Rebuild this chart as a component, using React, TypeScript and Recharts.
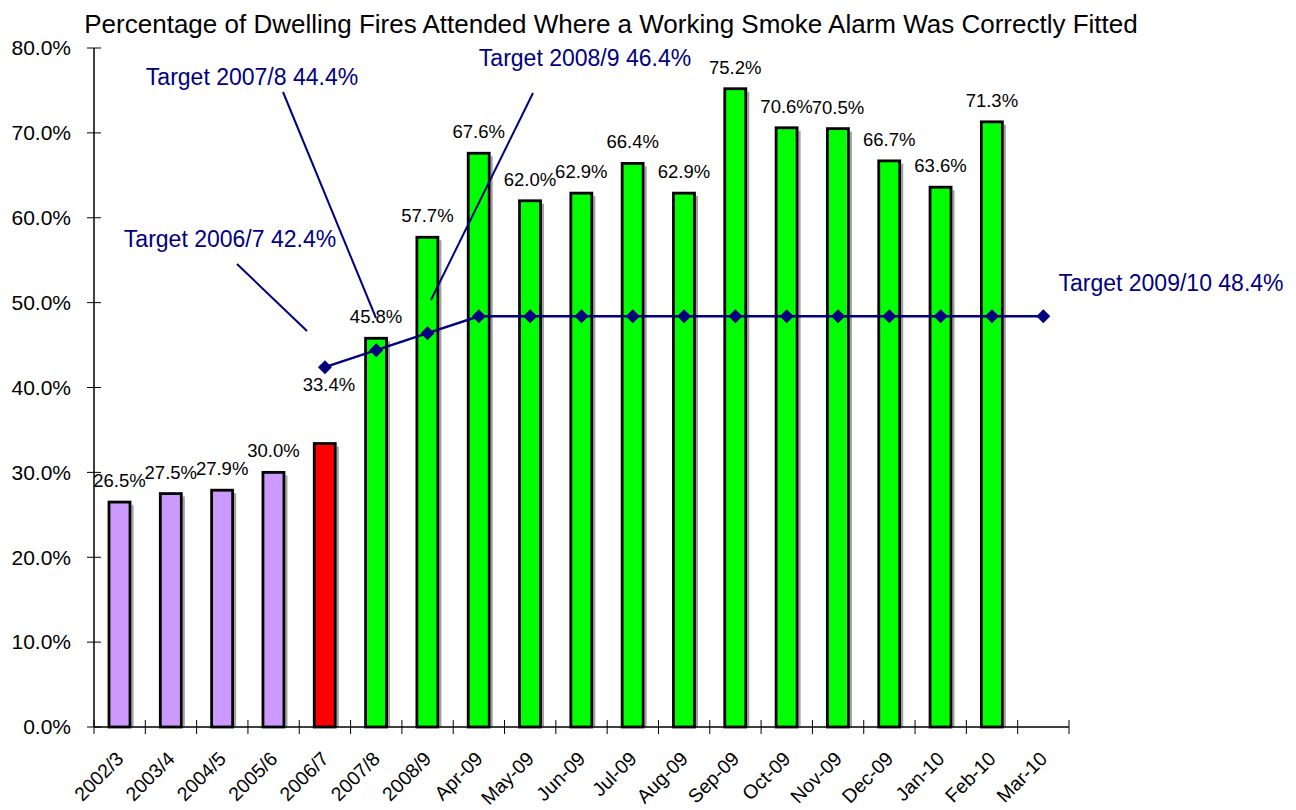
import React from 'react';
import {
  ComposedChart,
  Bar,
  Line,
  XAxis,
  YAxis,
  Cell,
  LabelList,
} from 'recharts';

const categories = [
  '2002/3', '2003/4', '2004/5', '2005/6', '2006/7', '2007/8', '2008/9',
  'Apr-09', 'May-09', 'Jun-09', 'Jul-09', 'Aug-09', 'Sep-09', 'Oct-09',
  'Nov-09', 'Dec-09', 'Jan-10', 'Feb-10', 'Mar-10',
];

const fittedPct = [
  26.5, 27.5, 27.9, 30.0, 33.4, 45.8, 57.7, 67.6, 62.0, 62.9, 66.4, 62.9,
  75.2, 70.6, 70.5, 66.7, 63.6, 71.3, null,
];

const targetPct = [
  null, null, null, null, 42.4, 44.4, 46.4, 48.4, 48.4, 48.4, 48.4, 48.4,
  48.4, 48.4, 48.4, 48.4, 48.4, 48.4, 48.4,
];

const barColors = [
  '#CC99FF', '#CC99FF', '#CC99FF', '#CC99FF', '#FF0000', '#00FF00', '#00FF00',
  '#00FF00', '#00FF00', '#00FF00', '#00FF00', '#00FF00', '#00FF00', '#00FF00',
  '#00FF00', '#00FF00', '#00FF00', '#00FF00', '#00FF00',
];

const yTicks = [0, 10, 20, 30, 40, 50, 60, 70, 80];

const targetNotes = [
  { text: 'Target 2007/8 44.4%', x: 252, y: 85, line: [283, 92, 376, 318] },
  { text: 'Target 2008/9 46.4%', x: 585, y: 66, line: [533, 93, 431, 300] },
  { text: 'Target 2006/7 42.4%', x: 230, y: 247, line: [237, 264, 307, 331] },
  { text: 'Target 2009/10 48.4%', x: 1171, y: 291, line: null },
];

const TITLE = 'Percentage of Dwelling Fires Attended Where a Working Smoke Alarm Was Correctly Fitted';

const W = 1296;
const H = 810;
const PLOT_LEFT = 94;
const PLOT_RIGHT = 1069;
const PLOT_TOP = 48;
const PLOT_BOTTOM = 727;
const BAND = (PLOT_RIGHT - PLOT_LEFT) / categories.length;
const FONT = '"Liberation Sans", Arial, sans-serif';
const NAVY = '#000080';

const data = categories.map((name, i) => ({
  name,
  fitted: fittedPct[i],
  target: targetPct[i],
}));

const pct = (v: number) => `${v.toFixed(1)}%`;

function YTick(props: any) {
  const { x, y, payload } = props;
  return (
    <g>
      <line x1={x - 7} x2={x + 7} y1={y} y2={y} stroke="#000" />
      <text x={x - 23} y={y} dy="0.35em" textAnchor="end" fontSize={21} fontFamily={FONT} fill="#000">
        {pct(payload.value)}
      </text>
    </g>
  );
}

function XTick(props: any) {
  const { x, y, payload, index } = props;
  const left = x - BAND / 2;
  const ax = x + 5;
  const ay = y + 33;
  return (
    <g>
      <line x1={left} x2={left} y1={y - 7} y2={y + 7} stroke="#000" />
      {index === categories.length - 1 && (
        <line x1={x + BAND / 2} x2={x + BAND / 2} y1={y - 7} y2={y + 7} stroke="#000" />
      )}
      <text
        x={ax}
        y={ay}
        transform={`rotate(-45, ${ax}, ${ay})`}
        textAnchor="end"
        fontSize={19.5}
        fontFamily={FONT}
        fill="#000"
      >
        {payload.value}
      </text>
    </g>
  );
}

function ShadowBar(props: any) {
  const { x, y, width, height, fill } = props;
  if (height == null || height <= 0) return null;
  return (
    <g>
      <rect x={x + width + 1.5} y={y + 3} width={2} height={height - 3} fill="#A0A0A0" />
      <rect x={x} y={y} width={width} height={height} fill={fill} stroke="#000" strokeWidth={2.8} />
    </g>
  );
}

function Diamond(props: any) {
  const { cx, cy, value } = props;
  if (value == null || cy == null) return null;
  const r = 7;
  return (
    <polygon
      points={`${cx},${cy - r} ${cx + r},${cy} ${cx},${cy + r} ${cx - r},${cy}`}
      fill={NAVY}
    />
  );
}

function BarLabel(props: any) {
  const { x, y, width, value, index } = props;
  if (value == null || index === 4) return null;
  return (
    <text x={x + width / 2} y={y - 15} textAnchor="middle" fontSize={18.5} fontFamily={FONT} fill="#000">
      {pct(value)}
    </text>
  );
}

function TargetStartLabel(props: any) {
  const { x, y, index } = props;
  if (index !== 4 || fittedPct[4] == null) return null;
  return (
    <text x={x + 4} y={y + 24} textAnchor="middle" fontSize={18.5} fontFamily={FONT} fill="#000">
      {pct(fittedPct[4] as number)}
    </text>
  );
}

export default function App() {
  return (
    <div style={{ position: 'absolute', left: 0, top: 0, width: W, height: H, background: '#fff' }}>
      <ComposedChart
        width={W}
        height={H}
        data={data}
        margin={{ top: PLOT_TOP, right: W - PLOT_RIGHT, bottom: 0, left: 0 }}
        barSize={21}
      >
        <XAxis
          dataKey="name"
          interval={0}
          height={H - PLOT_BOTTOM}
          tick={<XTick />}
          tickLine={false}
          tickSize={0}
          tickMargin={0}
          axisLine={{ stroke: '#000', strokeWidth: 1.5 }}
        />
        <YAxis
          domain={[0, 80]}
          ticks={yTicks}
          width={PLOT_LEFT}
          tick={<YTick />}
          tickLine={false}
          tickSize={0}
          tickMargin={0}
          axisLine={{ stroke: '#000', strokeWidth: 1.5 }}
          interval={0}
        />
        <Bar dataKey="fitted" shape={<ShadowBar />} isAnimationActive={false}>
          {data.map((d, i) => (
            <Cell key={d.name} fill={barColors[i]} />
          ))}
          <LabelList dataKey="fitted" content={<BarLabel />} />
        </Bar>
        <Line
          dataKey="target"
          stroke={NAVY}
          strokeWidth={2.5}
          dot={<Diamond />}
          activeDot={false}
          isAnimationActive={false}
        >
          <LabelList dataKey="target" content={<TargetStartLabel />} />
        </Line>
      </ComposedChart>
      <svg
        width={W}
        height={H}
        style={{ position: 'absolute', left: 0, top: 0, pointerEvents: 'none' }}
      >
        <text x={611} y={33} textAnchor="middle" fontSize={26} fontFamily={FONT} fill="#000">
          {TITLE}
        </text>
        {targetNotes.map((n) => (
          <g key={n.text}>
            <text x={n.x} y={n.y} textAnchor="middle" fontSize={23} fontFamily={FONT} fill={NAVY}>
              {n.text}
            </text>
            {n.line && (
              <line
                x1={n.line[0]}
                y1={n.line[1]}
                x2={n.line[2]}
                y2={n.line[3]}
                stroke={NAVY}
                strokeWidth={2}
              />
            )}
          </g>
        ))}
      </svg>
    </div>
  );
}
